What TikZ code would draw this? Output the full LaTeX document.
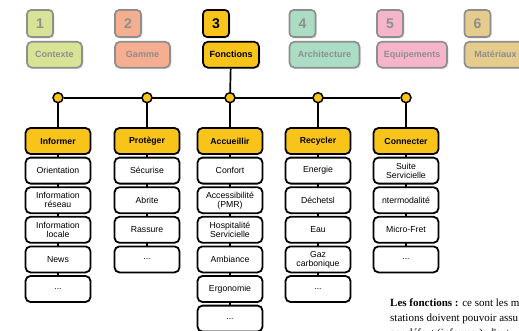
\documentclass[tikz,border=0pt]{standalone}
\usepackage{fontspec}
\setmainfont{Liberation Sans}
\newfontfamily\notefont{Liberation Serif}
\usetikzlibrary{positioning,shadows,backgrounds}

\definecolor{fnyellow}{HTML}{F8C41A}
\definecolor{ctxgreen}{HTML}{D9E396}
\definecolor{gamsalmon}{HTML}{F5AE90}
\definecolor{archmint}{HTML}{AADDC3}
\definecolor{equippink}{HTML}{F7B5CC}
\definecolor{matertan}{HTML}{E5CB8C}
\definecolor{fadegray}{HTML}{8E8E8E}

\begin{document}
\begin{tikzpicture}[
    x=1pt, y=-1pt,
    node distance=1.8pt,
    numbox/.style={draw=fadegray, line width=1.7pt, rounded corners=4pt, minimum width=26pt, minimum height=27pt, inner sep=1pt, text=fadegray, font=\bfseries\fontsize{14}{14}\selectfont, drop shadow={opacity=0.2, shadow xshift=1.5pt, shadow yshift=-1.5pt}},
    tabbox/.style={draw=fadegray, line width=1.7pt, rounded corners=5pt, minimum height=26pt, inner sep=2pt, text=fadegray, font=\bfseries\fontsize{9}{10}\selectfont, drop shadow={opacity=0.2, shadow xshift=1.5pt, shadow yshift=-1.5pt}},
    headbox/.style={draw, line width=1.8pt, rounded corners=5pt, fill=fnyellow, minimum width=65pt, minimum height=26pt, inner sep=2pt, font=\bfseries\fontsize{8.7}{9.5}\selectfont},
    itembox/.style={draw, line width=1.8pt, rounded corners=5pt, fill=white, minimum width=65pt, minimum height=26pt, inner sep=2pt, align=center, font=\fontsize{8.7}{9}\selectfont},
    joint/.style={circle, draw, line width=1.5pt, fill=fnyellow, inner sep=0pt, minimum size=10pt},
    link/.style={line width=1.7pt}
  ]
  \useasboundingbox (0,0) rectangle (519,330);

  % onglets
  \node[numbox, fill=ctxgreen] (n1) at (40,23.5) {1};
  \node[tabbox, fill=ctxgreen, minimum width=55pt, below=3pt of n1.south west, anchor=north west] (contexte) {Contexte};
  \node[numbox, fill=gamsalmon] (n2) at (128,23.5) {2};
  \node[tabbox, fill=gamsalmon, minimum width=55pt, below=3pt of n2.south west, anchor=north west] (gamme) {Gamme};
  \node[numbox, fill=fnyellow, draw=black, text=black] (n3) at (216,23.5) {3};
  \node[tabbox, fill=fnyellow, draw=black, text=black, minimum width=56pt, below=3pt of n3.south west, anchor=north west] (fonctions) {Fonctions};
  \node[numbox, fill=archmint] (n4) at (302.5,23.5) {4};
  \node[tabbox, fill=archmint, minimum width=70pt, below=3pt of n4.south west, anchor=north west] (archi) {Architecture};
  \node[numbox, fill=equippink] (n5) at (390,23.5) {5};
  \node[tabbox, fill=equippink, minimum width=70pt, below=3pt of n5.south west, anchor=north west] (equip) {Equipements};
  \node[numbox, fill=matertan] (n6) at (477.5,23.5) {6};
  \node[tabbox, fill=matertan, minimum width=62pt, below=3pt of n6.south west, anchor=north west] (materiaux) {Matériaux};

  % points de jonction
  \node[joint] (j1) at (58,97.7) {};
  \node[joint] (j2) at (147,97.7) {};
  \node[joint] (j3) at (230,97.7) {};
  \node[joint] (j4) at (318,97.7) {};
  \node[joint] (j5) at (406,97.7) {};

  % Informer
  \node[headbox] (informer) at (58,141) {Informer};
  \node[itembox, below=of informer] (orientation) {Orientation};
  \node[itembox, below=of orientation] (reseau) {Information\\réseau};
  \node[itembox, below=of reseau] (locale) {Information\\locale};
  \node[itembox, below=of locale] (news) {News};
  \node[itembox, below=of news] (informerx) {...};

  % Protéger
  \node[headbox] (proteger) at (147,141) {Protèger};
  \node[itembox, below=of proteger] (securise) {Sécurise};
  \node[itembox, below=of securise] (abrite) {Abrite};
  \node[itembox, below=of abrite] (rassure) {Rassure};
  \node[itembox, below=of rassure] (protegerx) {...};

  % Accueillir
  \node[headbox] (accueillir) at (230,141) {Accueillir};
  \node[itembox, below=of accueillir] (confort) {Confort};
  \node[itembox, below=of confort] (pmr) {Accessibilité\\(PMR)};
  \node[itembox, below=of pmr] (hospitalite) {Hospitalité\\Servicielle};
  \node[itembox, below=of hospitalite] (ambiance) {Ambiance};
  \node[itembox, below=of ambiance] (ergonomie) {Ergonomie};
  \node[itembox, below=of ergonomie] (accueillirx) {...};

  % Recycler
  \node[headbox] (recycler) at (318,141) {Recycler};
  \node[itembox, below=of recycler] (energie) {Energie};
  \node[itembox, below=of energie] (dechets) {Déchetsl};
  \node[itembox, below=of dechets] (eau) {Eau};
  \node[itembox, below=of eau] (gaz) {Gaz\\carbonique};
  \node[itembox, below=of gaz] (recyclerx) {...};

  % Connecter
  \node[headbox] (connecter) at (406,141) {Connecter};
  \node[itembox, below=of connecter] (suite) {Suite\\Servicielle};
  \node[itembox, below=of suite] (intermod) {ntermodalité};
  \node[itembox, below=of intermod] (microfret) {Micro-Fret};
  \node[itembox, below=of microfret] (connecterx) {...};

  \begin{scope}[on background layer]
    \fill[white] (0,0) rectangle (519,330);
    \draw[link] (fonctions) -- (j3);
    \draw[link] (j1) -- (j5);
    \draw[link] (j1) -- (informerx);
    \draw[link] (j2) -- (protegerx);
    \draw[link] (j3) -- (accueillirx);
    \draw[link] (j4) -- (recyclerx);
    \draw[link] (j5) -- (connecterx);
  \end{scope}

  % texte
  \begin{scope}
    \clip (0,0) rectangle (519,330);
    \node[anchor=north west, align=left, inner sep=0pt, font=\notefont\fontsize{11}{15}\selectfont] (note) at (390,298.5) {\textbf{Les fonctions :} ce sont les m\\stations doivent pouvoir assu\\par défaut (informer), d'aut};
  \end{scope}
\end{tikzpicture}
\end{document}
